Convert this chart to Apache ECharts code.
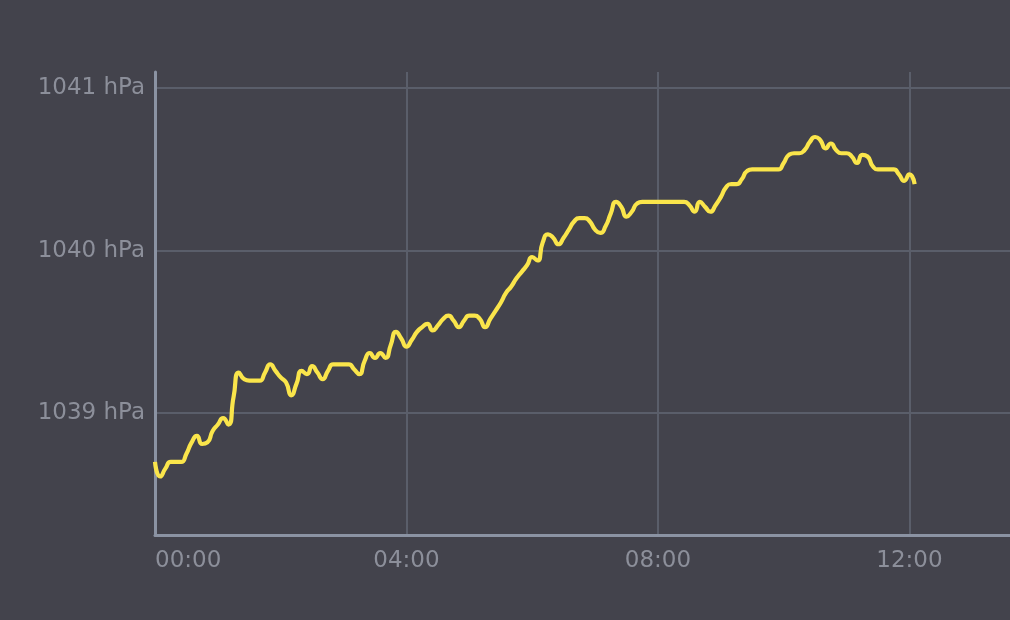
<!DOCTYPE html>
<html>
<head>
<meta charset="utf-8">
<script src="https://cdn.jsdelivr.net/npm/echarts@6/dist/echarts.min.js"></script>
<style>
html,body{margin:0;padding:0;background:#43434c;}
#chart{width:1010px;height:620px;}
</style>
</head>
<body>
<div id="chart"></div>
<script>
// Pressure readings (hPa), one every 5 minutes starting 00:00
const startMinute = 0;
const stepMinutes = 5;
const pressure = [
  1038.70,1038.61,1038.66,1038.70,1038.70,1038.70,1038.75,1038.82,1038.86,1038.81,
  1038.82,1038.89,1038.93,1038.97,1038.93,1039.10,1039.25,1039.21,1039.20,1039.20,
  1039.20,1039.25,1039.30,1039.26,1039.22,1039.19,1039.11,1039.18,1039.26,1039.24,
  1039.29,1039.25,1039.21,1039.26,1039.30,1039.30,1039.30,1039.30,1039.27,1039.24,
  1039.32,1039.37,1039.34,1039.37,1039.34,1039.42,1039.50,1039.46,1039.41,1039.45,
  1039.50,1039.53,1039.55,1039.51,1039.54,1039.58,1039.60,1039.57,1039.53,1039.57,
  1039.60,1039.60,1039.58,1039.53,1039.58,1039.63,1039.68,1039.74,1039.78,1039.83,
  1039.87,1039.91,1039.96,1039.94,1040.05,1040.10,1040.08,1040.04,1040.08,1040.13,
  1040.18,1040.20,1040.20,1040.18,1040.13,1040.11,1040.15,1040.23,1040.30,1040.27,
  1040.21,1040.24,1040.29,1040.30,1040.30,1040.30,1040.30,1040.30,1040.30,1040.30,
  1040.30,1040.30,1040.28,1040.24,1040.30,1040.27,1040.24,1040.28,1040.33,1040.39,
  1040.41,1040.41,1040.44,1040.49,1040.50,1040.50,1040.50,1040.50,1040.50,1040.50,
  1040.54,1040.59,1040.60,1040.60,1040.62,1040.67,1040.70,1040.68,1040.63,1040.66,
  1040.62,1040.60,1040.60,1040.58,1040.54,1040.59,1040.58,1040.52,1040.50,1040.50,
  1040.50,1040.50,1040.47,1040.43,1040.47,1040.41
];
const yTicks = [1039, 1040, 1041];
const xTickMinutes = [0, 240, 480, 720];

const minutes = pressure.map((_, i) => startMinute + i * stepMinutes);
const seriesData = pressure.map((v, i) => [minutes[i], v]);

function fmtTime(m) {
  const h = Math.floor(m / 60), mm = Math.round(m % 60);
  return String(h).padStart(2, '0') + ':' + String(mm).padStart(2, '0');
}

const labelColor = '#8c8f9a';
const gridColor = '#5a5e6a';
const axisColor = '#8b93a3';
const font = 'DejaVu Sans';

const chart = echarts.init(document.getElementById('chart'), null, {renderer: 'canvas'});
chart.setOption({
  backgroundColor: '#43434c',
  animation: false,
  grid: {left: 155, right: 0, top: 72, bottom: 85, containLabel: false},
  xAxis: {
    type: 'value',
    min: 0,
    max: 816,
    axisLine: {show: true, lineStyle: {color: axisColor, width: 3}},
    axisTick: {show: false, customValues: xTickMinutes},
    splitLine: {show: true, showMinLine: false, lineStyle: {color: gridColor, width: 2}},
    axisLabel: {
      customValues: xTickMinutes,
      color: labelColor, fontFamily: font, fontSize: 23, margin: 15,
      alignMinLabel: 'left',
      formatter: v => fmtTime(v)
    }
  },
  yAxis: {
    type: 'value',
    min: 1038.25,
    max: 1041.1,
    axisLine: {show: true, lineStyle: {color: axisColor, width: 3}},
    axisTick: {show: false, customValues: yTicks},
    splitLine: {show: true, lineStyle: {color: gridColor, width: 2}},
    axisLabel: {
      customValues: yTicks,
      color: labelColor, fontFamily: font, fontSize: 23, margin: 10,
      formatter: v => v + ' hPa'
    }
  },
  series: [{
    type: 'line',
    data: seriesData,
    smooth: 0.6,
    showSymbol: false,
    lineStyle: {color: '#fae54b', width: 4.2},
    itemStyle: {color: '#fae54b'}
  }]
});
</script>
</body>
</html>
